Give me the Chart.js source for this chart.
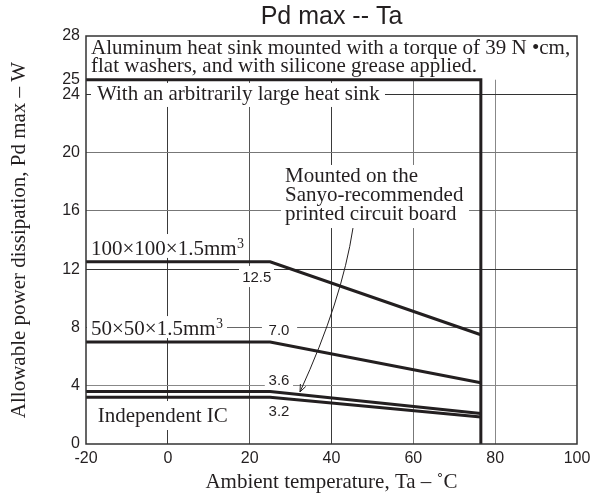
<!DOCTYPE html>
<html><head><meta charset="utf-8">
<script src="https://cdn.jsdelivr.net/npm/chart.js@4/dist/chart.umd.min.js"></script>
<style>html,body{margin:0;padding:0;background:#fff;} canvas{display:block;}</style>
</head><body>
<canvas id="c" width="605" height="497"></canvas>
<script>
const titleText = 'Pd max -- Ta';
const xAxisTitle = 'Ambient temperature, Ta – ˚C';
const yAxisTitle = 'Allowable power dissipation, Pd max – W';
const xTicks = [-20, 0, 20, 40, 60, 80, 100];
const yTicks = [0, 4, 8, 12, 16, 20, 24, 25, 28];

const seriesLabels = ['With an arbitrarily large heat sink', '100×100×1.5mm³', '50×50×1.5mm³', 'Sanyo-recommended board', 'Independent IC'];
const heatSinkTemp = [-20, 76.5, 76.5];
const heatSinkPd = [25, 25, 0];
const boardTemp = [-20, 25, 76.5];
const pd100x100 = [12.5, 12.5, 7.5];
const pd50x50 = [7.0, 7.0, 4.2];
const pdSanyoBoard = [3.6, 3.6, 2.1];
const pdIndependentIC = [3.2, 3.2, 1.85];

const INK = '#231f20';
const SERIF = '"Liberation Serif", "Times New Roman", serif';
const SANS = '"Liberation Sans", Arial, sans-serif';

function pts(xs, ys) { return xs.map((x, i) => ({ x: x, y: ys[i] })); }
function ds(label, xs, ys) {
  return { label: label, data: pts(xs, ys), borderColor: INK, backgroundColor: INK, borderWidth: 3,
           pointRadius: 0, tension: 0, fill: false, borderJoinStyle: 'miter', borderCapStyle: 'butt' };
}

const xGridColors = { '-20': 'rgba(0,0,0,0)', '0': '#3a3a3a', '20': '#555', '40': '#3a3a3a', '60': '#777', '80': '#888', '100': 'rgba(0,0,0,0)' };
const yGridColors = { '0': 'rgba(0,0,0,0)', '4': '#888', '8': '#666', '12': '#333', '16': '#777', '20': '#777', '24': '#333', '25': 'rgba(0,0,0,0)', '28': 'rgba(0,0,0,0)' };

const annot = {
  id: 'annot',
  beforeDatasetsDraw(chart) {
    const ctx = chart.ctx, xs = chart.scales.x, ys = chart.scales.y, a = chart.chartArea;
    const X = v => xs.getPixelForValue(v), Y = v => ys.getPixelForValue(v);
    ctx.save();
    ctx.fillStyle = '#fff';
    ctx.fillRect(a.left + 1, Y(28), a.right - a.left - 2, Y(25) - Y(28));
    function box(x0, y0, x1, y1) { ctx.fillStyle = '#fff'; ctx.fillRect(X(x0), Y(y0), X(x1) - X(x0), Y(y1) - Y(y0)); }
    function txt(s, x, y, font, align) { ctx.fillStyle = INK; ctx.font = font; ctx.textAlign = align || 'left'; ctx.textBaseline = 'alphabetic'; ctx.fillText(s, X(x), Y(y)); }
    function txtSup(s, sup, x, y) {
      ctx.fillStyle = INK; ctx.textAlign = 'left'; ctx.textBaseline = 'alphabetic';
      ctx.font = sf; ctx.fillText(s, X(x), Y(y));
      const w = ctx.measureText(s).width;
      ctx.font = '14px ' + SERIF; ctx.fillText(sup, X(x) + w + 0.5, Y(y) - 7);
    }
    const sf = '21px ' + SERIF, nf = '15px ' + SANS;
    // boxes
    box(-18.78, 24.78, 53.07, 23.13);
    box(27.66, 19.15, 73.6, 14.82);
    box(-19.76, 14.41, 19.0, 12.77);
    box(17.39, 12.22, 25.95, 10.77);
    box(-19.76, 8.78, 14.46, 7.27);
    box(23.0, 8.51, 31.6, 7.27);
    box(23.7, 5.0, 30.6, 3.77);
    box(-18.29, 2.95, 15.68, 0.96);
    // texts
    txt('Aluminum heat sink mounted with a torque of 39 N •cm,', -18.78, 26.74, sf);
    txt('flat washers, and with silicone grease applied.', -18.78, 25.55, sf);
    txt('With an arbitrarily large heat sink', -17.31, 23.61, sf);
    txt('Mounted on the', 28.63, 17.98, sf);
    txt('Sanyo-recommended', 28.63, 16.68, sf);
    txt('printed circuit board', 28.63, 15.37, sf);
    txtSup('100×100×1.5mm', '3', -18.78, 12.97);
    txtSup('50×50×1.5mm', '3', -18.78, 7.48);
    txt('Independent IC', -17.14, 1.53, sf);
    txt('12.5', 21.74, 11.14, nf, 'center');
    txt('7.0', 27.17, 7.48, nf, 'center');
    txt('3.6', 27.17, 4.05, nf, 'center');
    txt('3.2', 27.17, 1.92, nf, 'center');
    ctx.restore();
  },
  afterDatasetsDraw(chart) {
    const ctx = chart.ctx, xs = chart.scales.x, ys = chart.scales.y, a = chart.chartArea;
    const X = v => xs.getPixelForValue(v), Y = v => ys.getPixelForValue(v);
    ctx.save();
    // arrow
    const p0 = [X(45.25), Y(14.82)], c = [X(42.57), Y(9.88)], p2 = [X(32.3), Y(3.57)];
    ctx.strokeStyle = INK; ctx.lineWidth = 1;
    ctx.beginPath(); ctx.moveTo(p0[0], p0[1]); ctx.quadraticCurveTo(c[0], c[1], p2[0], p2[1]); ctx.stroke();
    const ang = Math.atan2(p2[1] - c[1], p2[0] - c[0]);
    const L = 8, w = 0.38;
    ctx.beginPath();
    ctx.moveTo(p2[0] - L * Math.cos(ang - w), p2[1] - L * Math.sin(ang - w));
    ctx.lineTo(p2[0], p2[1]);
    ctx.lineTo(p2[0] - L * Math.cos(ang + w), p2[1] - L * Math.sin(ang + w));
    ctx.stroke();
    // frame
    ctx.strokeStyle = '#333'; ctx.lineWidth = 1.5;
    ctx.strokeRect(a.left, a.top, a.right - a.left, a.bottom - a.top);
    ctx.restore();
  }
};

new Chart(document.getElementById('c'), {
  type: 'line',
  data: {
    datasets: [
      ds(seriesLabels[0], heatSinkTemp, heatSinkPd),
      ds(seriesLabels[1], boardTemp, pd100x100),
      ds(seriesLabels[2], boardTemp, pd50x50),
      ds(seriesLabels[3], boardTemp, pdSanyoBoard),
      ds(seriesLabels[4], boardTemp, pdIndependentIC)
    ]
  },
  options: {
    responsive: false,
    devicePixelRatio: 1,
    animation: false,
    layout: { padding: { left: 0, right: 28, top: 0, bottom: 0 } },
    plugins: {
      legend: { display: false },
      tooltip: { enabled: false },
      title: { display: true, fullSize: false, text: titleText, color: INK,
               font: { family: SANS, size: 25, weight: 'normal' }, padding: { top: 2, bottom: 4 } }
    },
    scales: {
      x: {
        type: 'linear', min: -20, max: 100,
        afterBuildTicks: s => { s.ticks = xTicks.map(v => ({ value: v })); },
        afterFit: s => { s.height = 53; },
        ticks: { color: INK, font: { family: SANS, size: 16 }, padding: 5, maxRotation: 0, autoSkip: false },
        grid: { drawTicks: false, lineWidth: 1, color: c => xGridColors[String(c.tick.value)] || '#777' },
        border: { display: false },
        title: { display: true, text: xAxisTitle, color: INK, font: { family: SERIF, size: 21 }, padding: { top: 0, bottom: 2 } }
      },
      y: {
        type: 'linear', min: 0, max: 28,
        afterBuildTicks: s => { s.ticks = yTicks.map(v => ({ value: v })); },
        afterFit: s => { s.width = 86; },
        ticks: { color: INK, font: { family: SANS, size: 16 }, padding: 6, autoSkip: false },
        grid: { drawTicks: false, lineWidth: 1, color: c => yGridColors[String(c.tick.value)] || '#777' },
        border: { display: false },
        title: { display: true, text: yAxisTitle, color: INK, font: { family: SERIF, size: 21 }, padding: { top: 7, bottom: 0 } }
      }
    }
  },
  plugins: [annot]
});
</script>
</body></html>
